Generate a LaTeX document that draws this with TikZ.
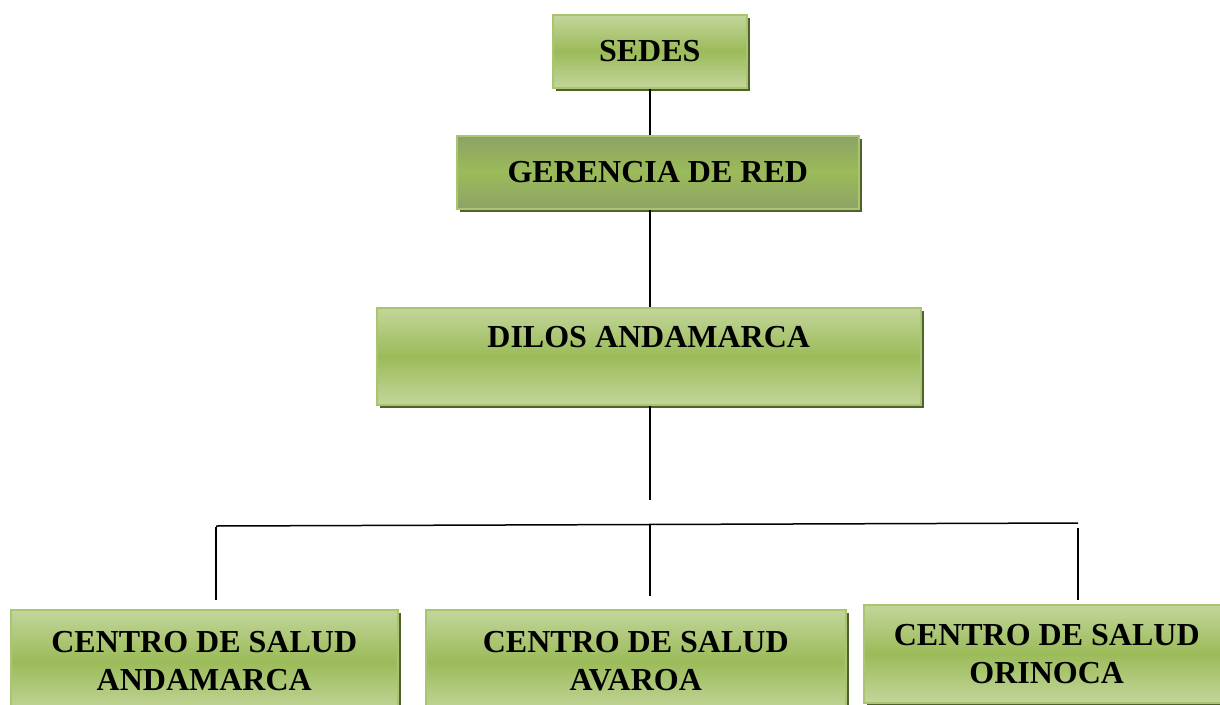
\documentclass[tikz,border=0pt]{standalone}
\usepackage{fontspec}
\setmainfont{Liberation Serif}
\usetikzlibrary{shadows}
\definecolor{lightg}{HTML}{C3D69B}
\definecolor{midg}{HTML}{9BBB59}
\definecolor{edgeg}{HTML}{A9C571}
\definecolor{shadowg}{HTML}{4F6228}
\definecolor{greyg}{HTML}{8DA266}
\begin{document}
\begin{tikzpicture}[x=1pt,y=-1pt,
  box/.style={draw=edgeg, line width=1.5pt, top color=lightg, bottom color=lightg, middle color=midg,
    drop shadow={fill=shadowg, opacity=1, shadow xshift=3pt, shadow yshift=-3pt},
    inner sep=0pt, align=center, anchor=north west, text=black,
    font=\fontsize{32}{38}\selectfont\bfseries},
  darkbox/.style={box, top color=greyg, bottom color=greyg, middle color=midg},
  conn/.style={draw=black, line width=1.5pt}]
\useasboundingbox (0,0) rectangle (1220,704);
\clip (0,0) rectangle (1220,704);
\fill[white] (0,0) rectangle (1220,704);

\node[box, minimum width=194pt, minimum height=73pt] (sedes) at (552,14) {SEDES};
\node[darkbox, minimum width=402pt, minimum height=73pt] (gerencia) at (456,135) {GERENCIA DE RED};
\node[box, minimum width=544pt, minimum height=97pt] (dilos) at (376,307) {DILOS ANDAMARCA\\~};
\node[box, minimum width=387pt, minimum height=103pt] (c1) at (10,609) {CENTRO DE SALUD\\ANDAMARCA};
\node[box, minimum width=420pt, minimum height=103pt] (c2) at (425,609) {CENTRO DE SALUD\\AVAROA};
\node[box, minimum width=366pt, minimum height=98pt] (c3) at (863,604) {CENTRO DE SALUD\\ORINOCA};

\coordinate (dend) at (sedes.south |- 0,500);
\coordinate (hl) at (216,526);
\coordinate (hr) at (1078,523);
\coordinate (hm) at (sedes.south |- 0,524);
\coordinate (v1) at (216,527);
\coordinate (v3) at (1078,528);
\coordinate (e1) at (216,600);
\coordinate (e2) at (sedes.south |- 0,596);
\coordinate (e3) at (1078,600);

\draw[conn] (sedes.south) -- (sedes.south |- gerencia.north);
\draw[conn] (gerencia.south -| sedes.south) -- (dilos.north -| sedes.south);
\draw[conn] (dilos.south -| sedes.south) -- (dend);
\draw[conn] (hl) -- (hr);
\draw[conn] (v1) -- (e1);
\draw[conn] (hm) -- (e2);
\draw[conn] (v3) -- (e3);
\end{tikzpicture}
\end{document}
